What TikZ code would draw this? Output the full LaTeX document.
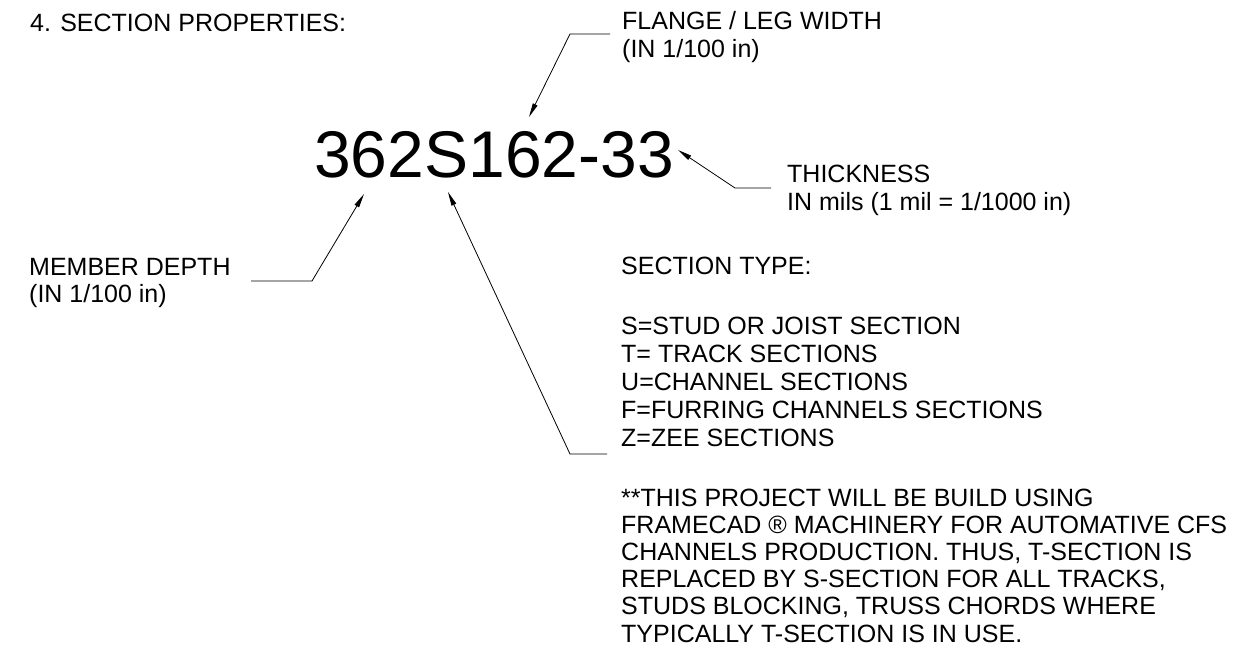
\documentclass[tikz,border=0pt]{standalone}
\usepackage{fontspec}
\setmainfont{Liberation Sans}
\usetikzlibrary{arrows.meta}

\begin{document}
\begin{tikzpicture}[x=1pt, y=-1pt, inner sep=0pt,
  txt/.style={anchor=base west, align=left, font=\fontsize{25}{28}\selectfont},
  ldr/.style={line width=0.8pt, -{Triangle[length=14pt, width=5pt]}}]
\useasboundingbox (0,0) rectangle (1245,660);
% multi-line texts sit on the baseline of their last line
\node[txt] (title) at (30,32) {4. SECTION PROPERTIES:};
\node[anchor=base west, font=\fontsize{66}{70}\selectfont] (code) at (314,178) {362S162-33};
% labels round the code
\node[txt] (flange) at (622,58) {FLANGE / LEG WIDTH\\(IN 1/100 in)};
\node[txt] (thick) at (787,211) {THICKNESS\\IN mils (1 mil = 1/1000 in)};
\node[txt] (depth) at (29,303) {MEMBER DEPTH\\(IN 1/100 in)};
\node[txt] (stype) at (621,275) {SECTION TYPE:};
\node[txt] (types) at (621,446) {S=STUD OR JOIST SECTION\\T= TRACK SECTIONS\\U=CHANNEL SECTIONS\\F=FURRING CHANNELS SECTIONS\\Z=ZEE SECTIONS};
\node[txt, font=\fontsize{25}{27.2}\selectfont] (note) at (621,642) {**THIS PROJECT WILL BE BUILD USING\\FRAMECAD ® MACHINERY FOR AUTOMATIVE CFS\\CHANNELS PRODUCTION. THUS, T-SECTION IS\\REPLACED BY S-SECTION FOR ALL TRACKS,\\STUDS BLOCKING, TRUSS CHORDS WHERE\\TYPICALLY T-SECTION IS IN USE.};
% leader points
\coordinate (flangeend) at (610,34);  \coordinate (flangeknee) at (570,34);  \coordinate (flangetip) at (529,117);
\coordinate (thickend) at (771,188);  \coordinate (thickknee) at (735,188);  \coordinate (thicktip) at (678,150);
\coordinate (depthend) at (251,281);  \coordinate (depthknee) at (312,281);  \coordinate (depthtip) at (364,194);
\coordinate (stypeend) at (607,454);  \coordinate (stypeknee) at (570,454);  \coordinate (stypetip) at (448,192);
\foreach \l in {flange,thick,depth,stype}
  \draw[ldr] (\l end) -- (\l knee) -- (\l tip);
\end{tikzpicture}
\end{document}
